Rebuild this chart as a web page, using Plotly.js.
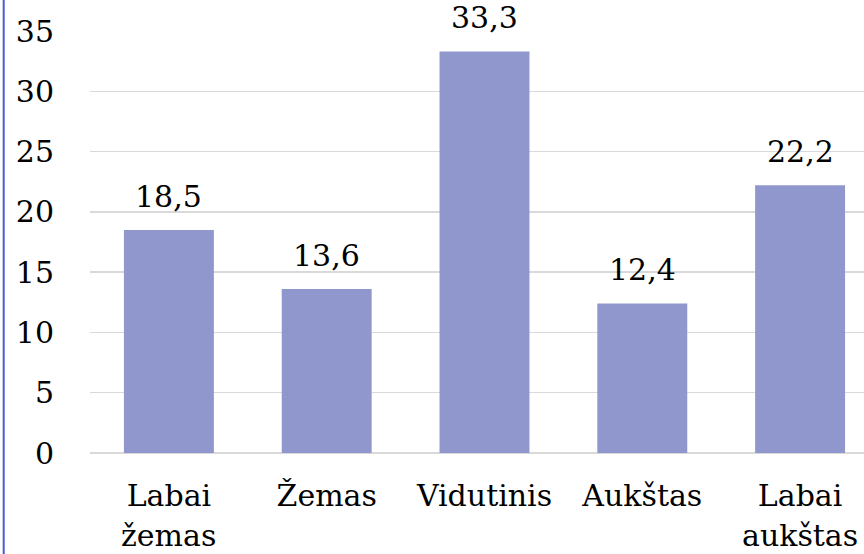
<!DOCTYPE html>
<html>
<head>
<meta charset="utf-8">
<script src="https://cdn.plot.ly/plotly-3.0.1.min.js"></script>
<style>
html,body{margin:0;padding:0;background:#fff;}
#chart{width:864px;height:554px;}
</style>
</head>
<body>
<div id="chart"></div>
<script>
const labelLine1 = ["Labai", "Žemas", "Vidutinis", "Aukštas", "Labai"];
const labelLine2 = ["žemas", "", "", "", "aukštas"];
const values = [18.5, 13.6, 33.3, 12.4, 22.2];
const yTicks = [0, 5, 10, 15, 20, 25, 30, 35];

const FONT = "DejaVu Serif";
const FS = 30;
const idx = values.map((v, i) => i);

const trace = {
  type: "bar",
  x: idx,
  y: values,
  width: 0.57,
  marker: {color: "#8F97CC"},
  hoverinfo: "skip"
};

const annotations = values.map((v, i) => ({
  x: i, y: v, xref: "x", yref: "y",
  text: v.toFixed(1).replace(".", ","),
  showarrow: false, yanchor: "bottom", yshift: 14,
  font: {family: FONT, size: FS, color: "#000"}
}));
labelLine2.forEach((t, i) => {
  if (!t) return;
  annotations.push({
    x: i, y: 0, xref: "x", yref: "y",
    text: t, showarrow: false, yanchor: "top", yshift: -63,
    font: {family: FONT, size: FS, color: "#000"}
  });
});

const layout = {
  width: 864, height: 554,
  margin: {l: 90, r: 0, t: 31, b: 101, pad: 0},
  paper_bgcolor: "#fff", plot_bgcolor: "#fff",
  showlegend: false,
  xaxis: {
    range: [-0.5, 4.405],
    tickvals: idx, ticktext: labelLine1,
    showgrid: false, zeroline: false, showline: false, ticks: "",
    tickfont: {family: FONT, size: FS, color: "#000"},
    ticklabelstandoff: 22,
    fixedrange: true
  },
  yaxis: {
    range: [0, 35],
    tickvals: yTicks, ticktext: yTicks.map(String),
    showgrid: true, gridcolor: "#D9D9D9", gridwidth: 1.5,
    zeroline: true, zerolinecolor: "#D9D9D9", zerolinewidth: 1.5,
    showline: false, ticks: "",
    tickfont: {family: FONT, size: FS, color: "#000"},
    ticklabelstandoff: 35,
    fixedrange: true
  },
  annotations: annotations,
  shapes: [{
    type: "line", xref: "paper", yref: "paper",
    x0: (3.7 - 90) / 774, x1: (3.7 - 90) / 774, y0: -0.3, y1: 1.2,
    line: {color: "#4A5AE0", width: 2}
  }]
};

Plotly.newPlot("chart", [trace], layout, {displayModeBar: false, staticPlot: true});
</script>
</body>
</html>
